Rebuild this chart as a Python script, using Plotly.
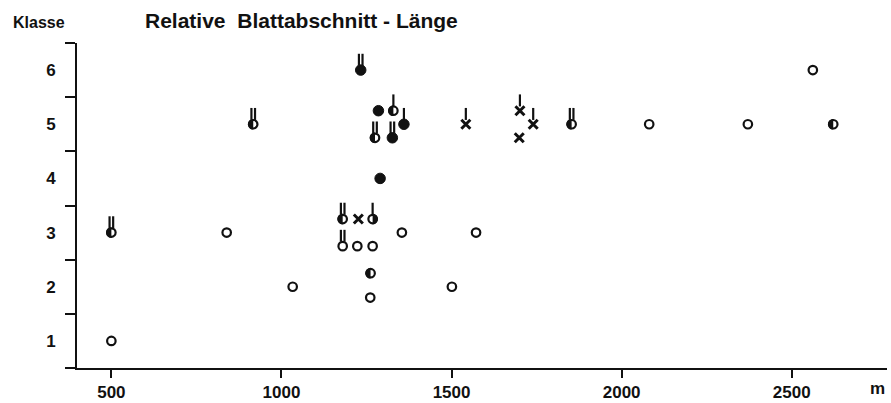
import plotly.graph_objects as go

# Meereshöhe (m) und Klasse der relativen Blattabschnitt-Länge je Fundort
hoehe = [500, 500, 839, 917, 1033, 1180, 1226, 1268, 1180, 1223, 1268,
         1262, 1261, 1233, 1285, 1329, 1360, 1275, 1326, 1290, 1354,
         1542, 1701, 1740, 1699, 1853, 1572, 1501, 2081, 2371, 2562, 2622]
klasse = [1, 3, 3, 5, 2, 3.25, 3.25, 3.25, 2.75, 2.75, 2.75,
          2.25, 1.8, 6, 5.25, 5.25, 5, 4.75, 4.75, 4, 3,
          5, 5.25, 5, 4.75, 5, 3, 2, 5, 5, 6, 5]
# Symbol: o = offen, f = gefüllt, l/r = links/rechts halb gefüllt, x = Kreuz
symbol = ["o", "l", "o", "l", "o", "l", "x", "r", "o", "o", "o",
          "l", "o", "f", "f", "l", "f", "l", "f", "f", "o",
          "x", "x", "x", "x", "l", "o", "o", "o", "o", "o", "l"]
# Anzahl Striche über dem Zeichen
striche = [0, 2, 0, 2, 0, 2, 0, 1, 2, 0, 0,
           0, 0, 2, 0, 1, 1, 2, 2, 0, 0,
           1, 1, 1, 0, 2, 0, 0, 0, 0, 0, 0]

x_ticks = [500, 1000, 1500, 2000, 2500]
y_ticks = [1, 2, 3, 4, 5, 6]

INK = "#111111"
FONT = "Liberation Sans"


def pick(kinds):
    idx = [i for i, s in enumerate(symbol) if s in kinds]
    return [hoehe[i] for i in idx], [klasse[i] for i in idx]


fig = go.Figure()

# offene Kreise (auch Grundlage für halb gefüllte)
xo, yo = pick("olr")
fig.add_trace(go.Scatter(x=xo, y=yo, mode="markers", showlegend=False,
                         marker=dict(symbol="circle-open", size=8.5,
                                     color=INK, line=dict(width=2.2, color=INK))))
# gefüllte Kreise
xf, yf = pick("f")
fig.add_trace(go.Scatter(x=xf, y=yf, mode="markers", showlegend=False,
                         marker=dict(symbol="circle", size=10.5, color=INK,
                                     line=dict(width=1, color=INK))))
# Kreuze
xx, yx = pick("x")
fig.add_trace(go.Scatter(x=xx, y=yx, mode="markers", showlegend=False,
                         marker=dict(symbol="x-thin", size=9,
                                     line=dict(width=3, color=INK))))

shapes = []
R = 5.3
K = 0.5523 * R
for xv, yv, s, n in zip(hoehe, klasse, symbol, striche):
    if s in ("l", "r"):
        sg = -1 if s == "l" else 1
        path = (f"M 0,{R} C {sg*K},{R} {sg*R},{K} {sg*R},0 "
                f"C {sg*R},{-K} {sg*K},{-R} 0,{-R} Z")
        shapes.append(dict(type="path", path=path, xref="x", yref="y",
                           xsizemode="pixel", ysizemode="pixel",
                           xanchor=xv, yanchor=yv,
                           fillcolor=INK, line=dict(width=0)))
    offs = [0] if n == 1 else ([-1.8, 1.8] if n == 2 else [])
    for dx in offs:
        shapes.append(dict(type="line", xref="x", yref="y",
                           xsizemode="pixel", ysizemode="pixel",
                           xanchor=xv, yanchor=yv,
                           x0=dx, x1=dx, y0=R - 1, y1=R + 11,
                           line=dict(width=2.2, color=INK)))

fig.update_layout(
    width=891, height=403,
    margin=dict(l=77, r=4, t=43, b=35),
    paper_bgcolor="white", plot_bgcolor="white",
    font=dict(family=FONT, color=INK, size=17),
    shapes=shapes,
    xaxis=dict(range=[399, 2780], tickvals=x_ticks, showgrid=False,
               zeroline=False, showline=True, linewidth=2, linecolor=INK,
               ticks="outside", ticklen=8, tickwidth=2, tickcolor=INK,
               automargin=False,
               tickfont=dict(size=17, family=FONT, color=INK, weight="bold")),
    yaxis=dict(range=[0.5, 6.5], tickvals=y_ticks,
               ticktext=[str(v) for v in y_ticks], showgrid=False,
               zeroline=False, showline=True, linewidth=2, linecolor=INK,
               ticks="outside", ticklen=16, tickcolor="rgba(0,0,0,0)",
               automargin=False,
               tickfont=dict(size=17, family=FONT, color=INK, weight="bold"),
               minor=dict(tickvals=[0.5, 1.5, 2.5, 3.5, 4.5, 5.5, 6.5],
                          ticks="outside", ticklen=10, tickwidth=2,
                          tickcolor=INK, showgrid=False)),
    annotations=[
        dict(text="<b>Relative  Blattabschnitt - Länge</b>", xref="paper",
             yref="paper", x=(143 - 77) / 810, y=(368 - 21) / 325,
             xanchor="left", yanchor="middle", showarrow=False,
             font=dict(size=21, family=FONT, color=INK)),
        dict(text="<b>Klasse</b>", xref="paper", yref="paper",
             x=(11 - 77) / 810, y=(368 - 22) / 325,
             xanchor="left", yanchor="middle", showarrow=False,
             font=dict(size=16, family=FONT, color=INK)),
        dict(text="<b>m</b>", xref="paper", yref="paper",
             x=(877 - 77) / 810, y=(368 - 389) / 325,
             xanchor="center", yanchor="middle", showarrow=False,
             font=dict(size=17, family=FONT, color=INK)),
    ],
)

fig.write_html("out.html")
